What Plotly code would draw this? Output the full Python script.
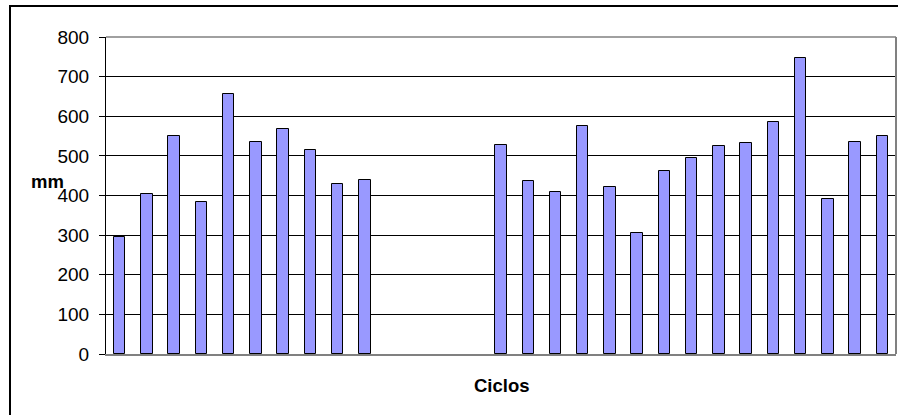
import plotly.graph_objects as go

# Cycle index along the x axis (29 slots, slots 11-14 have no record)
ciclos = list(range(1, 30))
mm = [295, 404, 550, 383, 655, 535, 569, 516, 430, 440,
      None, None, None, None,
      528, 437, 408, 575, 422, 306, 463, 495, 525, 532, 586, 746, 391, 535, 550]

y_ticks = [0, 100, 200, 300, 400, 500, 600, 700, 800]

W, H = 898, 415
L, R, T, B = 106, 2, 37, 61
pw, ph = W - L - R, H - T - B

def px_x(p):
    return (p - L) / pw

def px_y(p):
    return 1 - (p - T) / ph

fig = go.Figure()
fig.add_trace(go.Bar(
    x=ciclos, y=mm, width=0.42,
    marker=dict(color="#9999FF", line=dict(color="#000000", width=1)),
    hoverinfo="y",
))

font = dict(family="Liberation Sans, Arial, sans-serif", color="#000000")

fig.update_layout(
    width=W, height=H,
    margin=dict(l=L, r=R, t=T, b=B),
    paper_bgcolor="#FFFFFF", plot_bgcolor="#FFFFFF",
    showlegend=False,
    bargap=0,
    xaxis=dict(
        range=[0.5, 29.5], showticklabels=False, ticks="",
        showgrid=False, zeroline=False,
        showline=True, linecolor="#808080", linewidth=2,
    ),
    yaxis=dict(
        range=[0, 800], tickvals=y_ticks,
        showgrid=True, gridcolor="#000000", gridwidth=1,
        zeroline=False, showline=True, linecolor="#000000", linewidth=1,
        ticks="outside", ticklen=6, tickcolor="#000000", tickwidth=1,
        ticklabelstandoff=6,
        tickfont=dict(size=19, **font),
    ),
    annotations=[
        dict(text="<b>mm</b>", xref="paper", yref="paper",
             x=px_x(47), y=px_y(181), xanchor="center", yanchor="middle",
             showarrow=False, font=dict(size=18.5, **font)),
        dict(text="<b>Ciclos</b>", xref="paper", yref="paper",
             x=px_x(501.5), y=px_y(385), xanchor="center", yanchor="middle",
             showarrow=False, font=dict(size=18.5, **font)),
    ],
    shapes=[
        # plot area frame: top and right edges in gray
        dict(type="line", xref="paper", yref="paper", x0=0, x1=1, y0=1, y1=1,
             line=dict(color="#808080", width=1.5), layer="above"),
        dict(type="line", xref="paper", yref="paper", x0=1, x1=1, y0=0, y1=1,
             line=dict(color="#808080", width=2), layer="above"),
        # outer chart border
        dict(type="rect", xref="paper", yref="paper",
             x0=px_x(10), x1=px_x(920), y0=px_y(6), y1=px_y(440),
             line=dict(color="#000000", width=2), fillcolor="rgba(0,0,0,0)"),
    ],
)

fig.write_html("out.html")
